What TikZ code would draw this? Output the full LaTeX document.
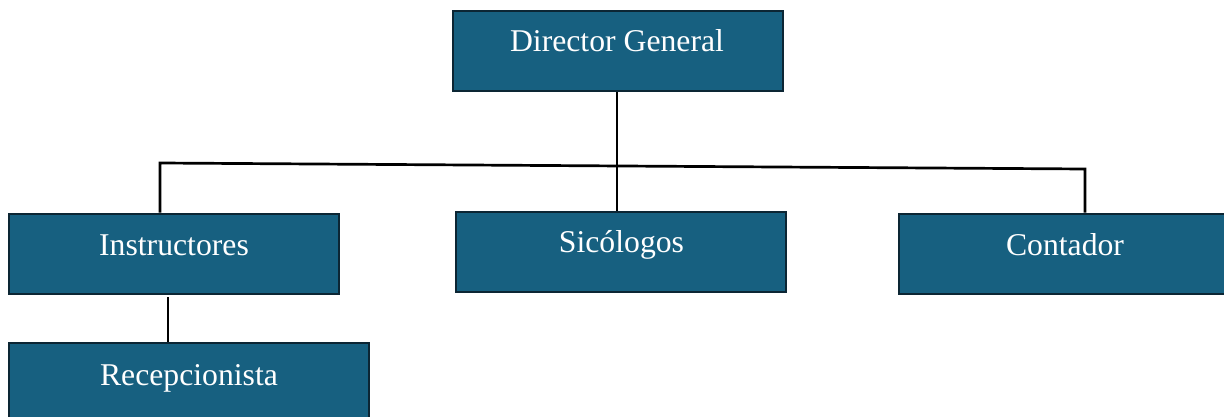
\documentclass[tikz,border=0pt]{standalone}
\usepackage{fontspec}
\setmainfont{Liberation Serif}
\definecolor{boxfill}{RGB}{23,96,128}
\definecolor{boxline}{RGB}{12,38,52}
\begin{document}
\begin{tikzpicture}[x=1pt,y=-1pt,
  orgbox/.style={draw=boxline,line width=2pt,fill=boxfill,inner sep=0pt,minimum width=330pt,minimum height=80pt},
  lbl/.style={anchor=base,text=white,font=\fontsize{31.7}{38}\selectfont,inner sep=0pt},
  conn/.style={draw=black,line width=2.7pt}]
\useasboundingbox (0,0) rectangle (1224,417);
\begin{scope}
\clip (0,0) rectangle (1224,417);
\node[orgbox] (dg) at (617.5,51) {};
\node[orgbox] (ins) at (174,253.5) {};
\node[orgbox] (sic) at (621,251.5) {};
\node[orgbox] (con) at (1064,253.5) {};
\node[orgbox,minimum width=360pt] (rec) at (189,383) {};
\end{scope}
\node[lbl] (dgt) at (617,52) {Director General};
\node[lbl] (inst) at (174,255) {Instructores};
\node[lbl] (sict) at (621.5,252) {Sicólogos};
\node[lbl] (cont) at (1065,255) {Contador};
\node[lbl] (rect) at (189,385) {Recepcionista};
\coordinate (jl) at (160,163);
\coordinate (jr) at (1085,169);
\coordinate (insb) at (168,297);
\draw[conn] (dg.south -| 617,0) -- (617,0 |- sic.north);
\draw[conn] (jl |- ins.north) -- (jl) -- (jr) -- (jr |- con.north);
\draw[conn] (insb) -- (insb |- rec.north);
\end{tikzpicture}
\end{document}
